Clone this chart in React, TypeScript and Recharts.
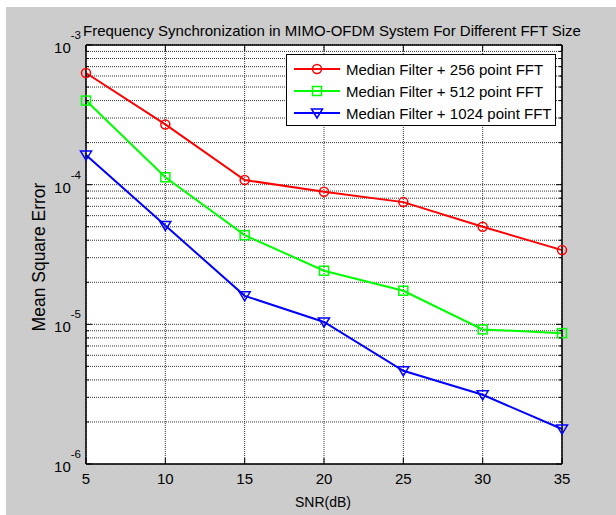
import React from 'react';
import { LineChart, Line, XAxis, YAxis, CartesianGrid, Legend } from 'recharts';

const FONT = '"Liberation Sans", Arial, Helvetica, sans-serif';

// SNR in dB
const snr = [5, 10, 15, 20, 25, 30, 35];
// mean square error
const mse256 = [6.3e-4, 2.7e-4, 1.08e-4, 8.9e-5, 7.5e-5, 5.0e-5, 3.4e-5];
const mse512 = [4.0e-4, 1.13e-4, 4.35e-5, 2.42e-5, 1.74e-5, 9.2e-6, 8.65e-6];
const mse1024 = [1.63e-4, 5.1e-5, 1.6e-5, 1.04e-5, 4.65e-6, 3.13e-6, 1.78e-6];

const xTicks = [5, 10, 15, 20, 25, 30, 35];
const yDecades = [-6, -5, -4];
const yMantissas = [1, 2, 3, 4, 5, 6, 7, 8, 9];
const yTicks = [...yDecades.flatMap((e) => yMantissas.map((m) => m * Math.pow(10, e))), 1e-3];

const series = [
  { key: 'fft256', name: 'Median Filter + 256 point FFT', color: '#ff0000', marker: 'circle' },
  { key: 'fft512', name: 'Median Filter + 512 point FFT', color: '#00ff00', marker: 'square' },
  { key: 'fft1024', name: 'Median Filter + 1024 point FFT', color: '#0000ff', marker: 'triangle' },
];

const data = snr.map((s, i) => ({ snr: s, fft256: mse256[i], fft512: mse512[i], fft1024: mse1024[i] }));

const Marker = ({ kind, cx, cy, color }: any) => {
  if (cx == null || cy == null) return null;
  if (kind === 'circle') {
    return <circle cx={cx} cy={cy} r={4.5} fill="none" stroke={color} strokeWidth={1.5} />;
  }
  if (kind === 'square') {
    return <rect x={cx - 4.5} y={cy - 4.5} width={9} height={9} fill="none" stroke={color} strokeWidth={1.5} />;
  }
  return (
    <polygon
      points={`${cx - 5.5},${cy - 4} ${cx + 5.5},${cy - 4} ${cx},${cy + 5}`}
      fill="none"
      stroke={color}
      strokeWidth={1.5}
    />
  );
};

const isDecade = (v: number) => {
  const lg = Math.log10(v);
  return Math.abs(lg - Math.round(lg)) < 1e-6;
};

const LeftTick = ({ x, y, payload }: any) => {
  const v = payload.value;
  const major = isDecade(v);
  const ax = x + 5;
  return (
    <g>
      <line x1={ax} x2={ax + (major ? 6 : 3)} y1={y} y2={y} stroke="#000" strokeWidth={1} />
      {major && (
        <text x={x} y={y + 8} textAnchor="end" fontSize={15} fill="#000" fontFamily={FONT}>
          <tspan>10</tspan>
          <tspan dy={-14} fontSize={11.5}>{Math.round(Math.log10(v))}</tspan>
        </text>
      )}
    </g>
  );
};

const RightTick = ({ x, y, payload }: any) => {
  const major = isDecade(payload.value);
  return <line x1={x} x2={x - (major ? 6 : 3)} y1={y} y2={y} stroke="#000" strokeWidth={1} />;
};

const BottomTick = ({ x, y, payload }: any) => (
  <g>
    <line x1={x} x2={x} y1={y} y2={y - 6} stroke="#000" strokeWidth={1} />
    <text x={x} y={y + 20} textAnchor="middle" fontSize={15} fill="#000" fontFamily={FONT}>
      {payload.value}
    </text>
  </g>
);

const TopTick = ({ x, y }: any) => <line x1={x} x2={x} y1={y} y2={y + 6} stroke="#000" strokeWidth={1} />;

const renderLegend = () => (
  <div
    style={{
      width: 270,
      height: 72,
      background: '#fff',
      border: '1px solid #000',
      boxSizing: 'border-box',
      paddingTop: 3,
      fontFamily: FONT,
      fontSize: 15,
      color: '#000',
    }}
  >
    {series.map((s) => (
      <div key={s.key} style={{ height: 22, display: 'flex', alignItems: 'center' }}>
        <svg width={59} height={22} style={{ display: 'block', flex: 'none' }}>
          <line x1={7} x2={53} y1={11} y2={11} stroke={s.color} strokeWidth={2} />
          <Marker kind={s.marker} cx={30} cy={11} color={s.color} />
        </svg>
        <span style={{ whiteSpace: 'nowrap' }}>{s.name}</span>
      </div>
    ))}
  </div>
);

export default function App() {
  return (
    <div style={{ position: 'absolute', left: 0, top: 0, width: 616, height: 515, background: '#fff' }}>
      <div style={{ position: 'absolute', left: 6, top: 7, width: 610, height: 508, background: '#cccccc' }} />
      <div style={{ position: 'absolute', left: 0, top: 0 }}>
        <LineChart width={616} height={515} data={data} margin={{ top: 44, right: 53, bottom: 20, left: 0 }}>
          <CartesianGrid stroke="#333333" strokeDasharray="1 1" strokeWidth={1} fill="#ffffff" fillOpacity={1} />
          <XAxis
            dataKey="snr"
            type="number"
            domain={[5, 35]}
            ticks={xTicks}
            height={31}
            tickSize={0}
            tickMargin={0}
            tick={<BottomTick />}
            axisLine={{ stroke: '#000', strokeWidth: 1.5 }}
            label={() => (
              <text x={323} y={507} textAnchor="middle" fontSize={14} fill="#000" fontFamily={FONT}>
                SNR(dB)
              </text>
            )}
          />
          <XAxis
            xAxisId="t"
            orientation="top"
            dataKey="snr"
            type="number"
            domain={[5, 35]}
            ticks={xTicks}
            height={1}
            tickSize={0}
            tickMargin={0}
            tick={<TopTick />}
            axisLine={{ stroke: '#000', strokeWidth: 1.5 }}
            label={() => (
              <text x={332} y={36} textAnchor="middle" fontSize={15} fill="#000" fontFamily={FONT}>
                Frequency Synchronization in MIMO-OFDM System For Different FFT Size
              </text>
            )}
          />
          <YAxis
            scale="log"
            type="number"
            domain={[1e-6, 1e-3]}
            allowDataOverflow
            ticks={yTicks}
            interval={0}
            width={86}
            tickSize={0}
            tickMargin={5}
            tick={<LeftTick />}
            axisLine={{ stroke: '#000', strokeWidth: 1.5 }}
            label={() => (
              <text
                x={45}
                y={257}
                transform="rotate(-90, 45, 257)"
                textAnchor="middle"
                fontSize={17.5}
                fill="#000"
                fontFamily={FONT}
              >
                Mean Square Error
              </text>
            )}
          />
          <YAxis
            yAxisId="r"
            orientation="right"
            scale="log"
            type="number"
            domain={[1e-6, 1e-3]}
            allowDataOverflow
            ticks={yTicks}
            interval={0}
            width={1}
            tickSize={0}
            tickMargin={0}
            tick={<RightTick />}
            axisLine={{ stroke: '#000', strokeWidth: 1.5 }}
          />
          <Legend
            layout="vertical"
            align="center"
            verticalAlign="middle"
            content={renderLegend}
            wrapperStyle={{ left: 286, top: 54, width: 270, height: 72 }}
          />
          {series.map((s) => (
            <Line
              key={s.key}
              dataKey={s.key}
              name={s.name}
              type="linear"
              stroke={s.color}
              strokeWidth={2}
              isAnimationActive={false}
              dot={(p: any) => <Marker key={`${s.key}-${p.index}`} kind={s.marker} cx={p.cx} cy={p.cy} color={s.color} />}
              activeDot={false}
            />
          ))}
        </LineChart>
      </div>
    </div>
  );
}
